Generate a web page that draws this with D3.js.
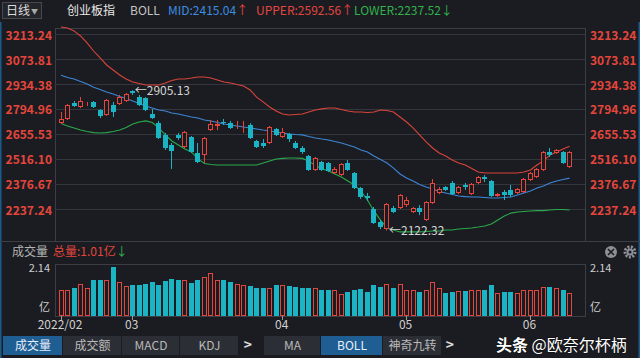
<!DOCTYPE html>
<html><head><meta charset="utf-8">
<script src="https://cdn.jsdelivr.net/npm/d3@7"></script>
<style>
html,body{margin:0;padding:0;background:#1b1c21;overflow:hidden}
svg{display:block}
text{font-family:"Noto Sans CJK SC","Liberation Sans",sans-serif}
</style></head><body>
<svg id="c" width="640" height="358"></svg>
<script>
const dates = ["02-14","02-15","02-16","02-17","02-18","02-21","02-22","02-23","02-24","02-25","02-28",
"03-01","03-02","03-03","03-04","03-07","03-08","03-09","03-10","03-11","03-14","03-15","03-16","03-17","03-18","03-21","03-22","03-23","03-24","03-25","03-28","03-29","03-30","03-31",
"04-01","04-06","04-07","04-08","04-11","04-12","04-13","04-14","04-15","04-18","04-19","04-20","04-21","04-22","04-25","04-26","04-27","04-28","04-29",
"05-05","05-06","05-09","05-10","05-11","05-12","05-13","05-16","05-17","05-18","05-19","05-20","05-23","05-24","05-25","05-26","05-27","05-30","05-31",
"06-01","06-02","06-06","06-07","06-08","06-09","06-10"];
const open = [2722,2745,2834,2812,2823,2840,2795,2767,2823,2828,2845,2901,2867,2862,2773,2722,2656,2600,2656,2589,
2644,2555,2544,2683,2706,2730,2722,2709,2709,2711,2622,2611,2611,2689,2644,2661,2611,2583,2538,2460,
2505,2499,2444,2432,2499,2444,2360,2315,2243,2170,2130,2248,2248,2265,2226,2248,2181,2276,2332,2366,
2388,2332,2377,2326,2388,2421,2399,2315,2338,2349,2332,2338,2405,2421,2460,2561,2555,2561,2477];
const close = [2745,2823,2817,2845,2828,2812,2762,2851,2784,2867,2884,2890,2823,2795,2750,2639,2583,2566,2639,2672,
2561,2505,2639,2717,2717,2726,2695,2713,2713,2639,2589,2594,2700,2656,2672,2633,2583,2561,2460,2527,
2460,2455,2466,2494,2460,2360,2310,2304,2165,2142,2271,2226,2321,2293,2248,2226,2282,2388,2354,2349,
2326,2366,2366,2382,2421,2410,2315,2326,2321,2321,2354,2410,2444,2466,2561,2544,2572,2499,2561];
const high = [2784,2828,2845,2867,2840,2845,2800,2856,2840,2879,2890,2905.13,2879,2867,2800,2734,2667,2611,2667,2678,
2650,2611,2644,2739,2739,2745,2734,2734,2734,2722,2628,2633,2706,2695,2695,2667,2622,2594,2544,2533,
2511,2505,2477,2499,2516,2449,2366,2332,2254,2181,2276,2260,2326,2310,2254,2265,2287,2410,2366,2371,
2399,2371,2388,2388,2427,2432,2405,2332,2349,2377,2360,2416,2449,2471,2566,2583,2577,2566,2566];
const low = [2717,2739,2812,2806,2817,2806,2750,2762,2756,2823,2840,2879,2817,2789,2745,2633,2572,2466,2628,2583,
2555,2499,2499,2678,2683,2711,2689,2689,2667,2633,2583,2583,2605,2650,2639,2617,2577,2550,2455,2455,
2455,2449,2438,2427,2455,2354,2299,2287,2159,2131,2122.32,2220,2243,2254,2220,2209,2176,2271,2326,2343,
2321,2326,2349,2321,2382,2393,2310,2310,2293,2310,2326,2332,2399,2416,2455,2533,2550,2494,2471];
const volume = [1.14,1.14,1.22,1.40,1.22,1.57,1.57,1.57,2.14,1.48,1.31,1.35,1.35,1.40,1.48,1.35,1.53,1.62,1.57,1.57,
1.44,1.57,1.70,1.88,1.57,1.57,1.48,1.40,1.35,1.31,1.22,1.22,1.22,1.35,1.35,1.31,1.27,1.22,1.22,1.22,
1.14,1.14,1.14,0.96,1.05,1.14,1.18,1.05,1.35,1.27,1.40,1.22,1.40,1.14,1.14,1.05,1.14,1.48,1.22,1.00,
1.05,1.09,1.09,1.14,1.14,1.14,1.35,1.00,1.05,1.05,1.00,1.14,1.14,1.14,1.27,1.27,1.22,1.14,1.01];
const bollUpper = [3258,3252,3236,3208,3169,3124,3085,3046,3018,2990,2968,2951,2943,2934,2934,2934,2946,2959,2968,2968,
2973,2979,2979,2973,2962,2951,2946,2937,2929,2907,2867,2840,2812,2789,2773,2767,2770,2773,2784,2795,
2801,2806,2806,2798,2789,2784,2784,2781,2784,2795,2792,2784,2756,2728,2695,2656,2617,2583,2555,2538,
2516,2499,2488,2469,2449,2444,2444,2444,2444,2444,2444,2449,2460,2488,2511,2544,2561,2577,2592.56];
const bollMid = [2989,2976,2968,2954,2940,2922,2909,2895,2884,2870,2859,2845,2831,2817,2806,2795,2789,2778,2773,2764,
2756,2750,2739,2734,2725,2717,2711,2706,2700,2695,2689,2683,2678,2672,2667,2661,2658,2656,2647,2639,
2633,2628,2619,2611,2600,2589,2572,2561,2538,2519,2499,2471,2438,2416,2399,2379,2365,2354,2340,2332,
2324,2315,2312,2310,2310,2307,2304,2304,2307,2310,2321,2332,2343,2360,2371,2388,2399,2407,2415.04];
const bollLower = [2720,2706,2695,2683,2675,2669,2667,2669,2675,2683,2697,2717,2728,2734,2725,2695,2656,2622,2600,2577,
2561,2522,2497,2491,2488,2488,2488,2488,2488,2488,2488,2499,2511,2522,2525,2527,2527,2525,2511,2485,
2469,2455,2438,2421,2399,2377,2343,2293,2232,2181,2137,2126,2115,2115,2115,2115,2117,2120,2120,2126,
2126,2131,2134,2137,2142,2148,2159,2181,2204,2220,2226,2229,2232,2234,2234,2237,2240,2240,2237.52];
const priceTicks = [3213.24,3073.81,2934.38,2794.96,2655.53,2516.10,2376.67,2237.24];
const monthTicks = ["02-14","03-01","04-01","05-05","06-01"];
const monthLabels = ["2022/02","03","04","05","06"];
const volMax = 2.14;
const volTotal = "1.01亿";
const buttons = [
 {t:"成交量",x0:3,x1:63,sel:true},{t:"成交额",x0:63,x1:122},{t:"MACD",x0:122,x1:180},{t:"KDJ",x0:180,x1:239},
 {t:">",x0:240,x1:256,plain:true},{t:"MA",x0:264,x1:321},{t:"BOLL",x0:321,x1:383,sel:true},{t:"神奇九转",x0:383,x1:442},
 {t:">",x0:443,x1:457,plain:true}];

const BG="#1b1c21", RED="#e4463c", CYAN="#1ab4c4", GRID="#34363d", BORDER="#3c3e46";
const svg = d3.select("#c");
svg.append("rect").attr("width",640).attr("height",358).attr("fill",BG);

const step = 6.52;
const x = d3.scaleBand().domain(dates).range([61-step/2, 61-step/2+step*dates.length]).padding(0);
const cx = d => x(d) + x.bandwidth()/2;
const y = d3.scaleLinear().domain([2237.24,3213.24]).range([210,35]);
const yv = d3.scaleLinear().domain([0,volMax]).range([316,267]);
const L=55, R=585;

// window edge
svg.append("line").attr("x1",0.75).attr("x2",0.75).attr("y1",22).attr("y2",358).attr("stroke","#1d5a8c").attr("stroke-width",1.5);
svg.append("line").attr("x1",639.25).attr("x2",639.25).attr("y1",22).attr("y2",358).attr("stroke","#1d5a8c").attr("stroke-width",1.5);

// top bar
svg.append("rect").attr("x",2.5).attr("y",2.5).attr("width",39).attr("height",16).attr("fill","#24252b").attr("stroke","#46484f");
svg.append("text").attr("x",6).attr("y",15).attr("font-size",12).attr("fill","#dcdcdc").text("日线");
svg.append("text").attr("x",31).attr("y",13.5).attr("font-size",7).attr("fill","#aaa").text("▼");
svg.append("text").attr("x",67).attr("y",15).attr("font-size",12).attr("fill","#e8e8e8").text("创业板指");
svg.append("text").attr("x",130).attr("y",15).attr("font-size",12).attr("fill","#c4c4c4").text("BOLL");
const last = dates.length-1;
function hdr(xp, label, val, col, arrow, acol){
  const t = svg.append("text").attr("x",xp).attr("y",15).attr("font-size",12);
  t.append("tspan").attr("fill",col).text(label+":"+val.toFixed(2));
  t.append("tspan").attr("fill",acol).text(arrow);
}
hdr(168,"MID",bollMid[last],"#3b8de0","↑",RED);
hdr(256,"UPPER",bollUpper[last],"#e2473f","↑",RED);
hdr(354,"LOWER",bollLower[last],"#2fb34c","↓","#2fb34c");

// main panel frame & grid
svg.append("line").attr("x1",L).attr("x2",R+1).attr("y1",28.5).attr("y2",28.5).attr("stroke",BORDER);
svg.append("line").attr("x1",L+0.5).attr("x2",L+0.5).attr("y1",28).attr("y2",241).attr("stroke",BORDER);
svg.append("line").attr("x1",R+0.5).attr("x2",R+0.5).attr("y1",28).attr("y2",241).attr("stroke",BORDER);
svg.append("line").attr("x1",0).attr("x2",640).attr("y1",241.5).attr("y2",241.5).attr("stroke",BORDER);
svg.append("g").selectAll("line").data(priceTicks).join("line")
  .attr("x1",L).attr("x2",R).attr("y1",d=>Math.round(y(d))-0.5).attr("y2",d=>Math.round(y(d))-0.5)
  .attr("stroke",GRID);
svg.append("g").selectAll("text").data(priceTicks).join("text")
  .attr("x",52).attr("y",d=>y(d)+4.5).attr("text-anchor","end").attr("font-size",12).attr("font-weight","bold")
  .attr("fill","#e5463b").text(d=>d.toFixed(2));
svg.append("g").selectAll("text").data(priceTicks).join("text")
  .attr("x",590).attr("y",d=>y(d)+4.5).attr("font-size",12).attr("font-weight","bold")
  .attr("fill","#e5463b").text(d=>d.toFixed(2));

// bollinger lines
const line = arr => d3.line().x((d,i)=>cx(dates[i])).y(d=>y(d))(arr);
svg.append("path").attr("d",line(bollUpper)).attr("fill","none").attr("stroke","#d8443b").attr("stroke-width",1.1);
svg.append("path").attr("d",line(bollMid)).attr("fill","none").attr("stroke","#3d86d6").attr("stroke-width",1.1);
svg.append("path").attr("d",line(bollLower)).attr("fill","none").attr("stroke","#2aa94b").attr("stroke-width",1.1);

// candles
const idx = d3.range(dates.length);
const up = i => close[i] >= open[i];
const col = i => up(i) ? RED : CYAN;
const cg = svg.append("g");
cg.selectAll("line").data(idx).join("line")
  .attr("x1",i=>Math.floor(cx(dates[i]))+0.5).attr("x2",i=>Math.floor(cx(dates[i]))+0.5)
  .attr("y1",i=>y(high[i])).attr("y2",i=>y(low[i])).attr("stroke",col);
cg.selectAll("rect").data(idx).join("rect")
  .attr("x",i=>{const c=Math.floor(cx(dates[i])); return up(i)? c-1.5 : c-2;})
  .attr("width",i=>up(i)?4:5)
  .attr("y",i=>{const t=Math.round(y(Math.max(open[i],close[i]))); return up(i)? t+0.5 : t;})
  .attr("height",i=>{const t=Math.round(y(Math.max(open[i],close[i]))), b=Math.round(y(Math.min(open[i],close[i])));
     return up(i)? Math.max(0,b-t-1) : Math.max(1,b-t);})
  .attr("fill",i=>up(i)?BG:CYAN).attr("stroke",i=>up(i)?RED:"none");

// extreme annotations
const hi = d3.maxIndex(high), lo = d3.minIndex(low);
svg.append("text").attr("x",cx(dates[hi])+2).attr("y",y(high[hi])+4.5).attr("font-size",12).attr("fill","#d4d4d4").text("←"+high[hi].toFixed(2));
svg.append("text").attr("x",cx(dates[lo])+2).attr("y",y(low[lo])+4.5).attr("font-size",12).attr("fill","#d4d4d4").text("←"+low[lo].toFixed(2));

// volume header
svg.append("text").attr("x",12).attr("y",256).attr("font-size",12).attr("fill","#b4b4b4").text("成交量");
const vt = svg.append("text").attr("x",53).attr("y",256).attr("font-size",12);
vt.append("tspan").attr("fill","#e2463c").text("总量:"+volTotal);
vt.append("tspan").attr("fill","#2fb34c").text("↓");
svg.append("circle").attr("cx",611).attr("cy",252).attr("r",6).attr("fill","#8d8f96");
svg.append("path").attr("d","M608,249L614,255M614,249L608,255").attr("stroke",BG).attr("stroke-width",1.6);
svg.append("circle").attr("cx",630).attr("cy",252).attr("r",5).attr("fill","none").attr("stroke","#8d8f96").attr("stroke-width",3).attr("stroke-dasharray","2 1.4");
svg.append("circle").attr("cx",630).attr("cy",252).attr("r",3.5).attr("fill","#8d8f96");
svg.append("circle").attr("cx",630).attr("cy",252).attr("r",1.5).attr("fill",BG);

// volume panel
svg.append("line").attr("x1",L).attr("x2",R+1).attr("y1",264.5).attr("y2",264.5).attr("stroke",BORDER);
svg.append("line").attr("x1",L+0.5).attr("x2",L+0.5).attr("y1",264).attr("y2",317).attr("stroke",BORDER);
svg.append("line").attr("x1",R+0.5).attr("x2",R+0.5).attr("y1",264).attr("y2",317).attr("stroke",BORDER);
svg.append("line").attr("x1",L).attr("x2",R+1).attr("y1",316.5).attr("y2",316.5).attr("stroke",BORDER);
const vg = svg.append("g");
vg.selectAll("rect").data(idx).join("rect")
  .attr("x",i=>{const c=Math.floor(cx(dates[i])); return up(i)? c-1.5 : c-2;})
  .attr("width",i=>up(i)?4:5)
  .attr("y",i=>{const t=Math.round(yv(volume[i])); return up(i)? t+0.5 : t;})
  .attr("height",i=>{const t=Math.round(yv(volume[i])); return up(i)? 316-t-1 : 316-t;})
  .attr("fill",i=>up(i)?BG:CYAN).attr("stroke",i=>up(i)?RED:"none");
[[50,"end"],[590,"start"]].forEach(([xp,a])=>{
  svg.append("text").attr("x",xp).attr("y",272).attr("text-anchor",a).attr("font-size",11).attr("fill","#cfcfcf").text(volMax.toFixed(2));
  svg.append("text").attr("x",xp).attr("y",311).attr("text-anchor",a).attr("font-size",11).attr("fill","#cfcfcf").text("亿");
});
// month ticks
svg.append("g").selectAll("line").data(monthTicks).join("line")
  .attr("x1",d=>Math.floor(cx(d))+0.5).attr("x2",d=>Math.floor(cx(d))+0.5).attr("y1",316).attr("y2",320).attr("stroke","#9a9a9a");
svg.append("g").selectAll("text").data(monthTicks).join("text")
  .attr("x",d=>cx(d)-1).attr("y",329).attr("text-anchor","middle").attr("font-size",12).attr("fill","#d0d0d0")
  .text((d,i)=>monthLabels[i]);

// toolbar
const bg = svg.append("g");
buttons.forEach(b=>{
  if(!b.plain){
    bg.append("rect").attr("x",b.x0).attr("y",336).attr("width",b.x1-b.x0-1).attr("height",19)
      .attr("fill",b.sel?"#1f5e93":"#2c2e35");
  }
  bg.append("text").attr("x",(b.x0+b.x1)/2).attr("y",350).attr("text-anchor","middle").attr("font-size",b.plain?14:12)
    .attr("font-weight",b.plain?"bold":"normal")
    .attr("fill",b.sel?"#e6eefa":(b.plain?"#d8d8d8":"#b9b9b9")).text(b.t);
});

// watermark
svg.append("text").attr("x",496).attr("y",351).attr("font-size",16).attr("fill","#ffffff")
  .attr("style","paint-order:stroke").attr("stroke","rgba(0,0,0,0.35)").attr("stroke-width",1.5)
  .html('<tspan font-weight="bold">头条</tspan> @欧奈尔杯柄');
</script>
</body></html>
